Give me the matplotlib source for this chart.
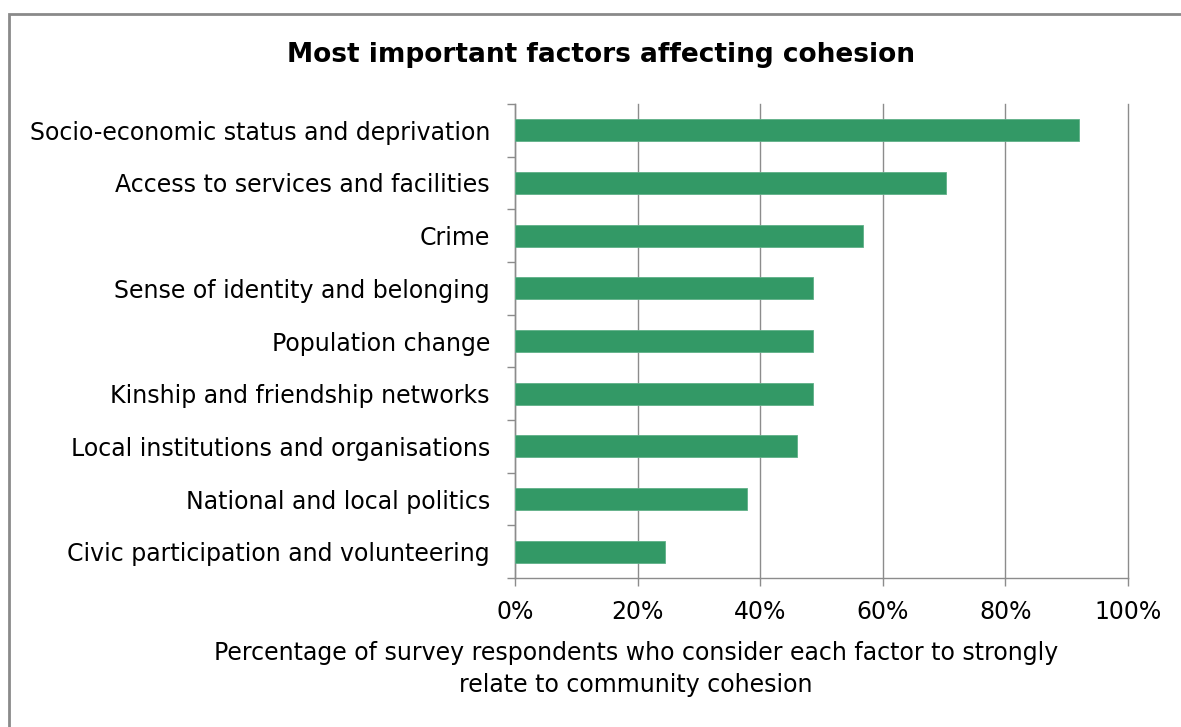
import matplotlib
matplotlib.use('Agg')
from matplotlib import pyplot as plt
from matplotlib.patches import Rectangle
from matplotlib.ticker import FixedLocator, PercentFormatter
import numpy as np

# data (top to bottom)
factors = ['Socio-economic status and deprivation',
           'Access to services and facilities',
           'Crime',
           'Sense of identity and belonging',
           'Population change',
           'Kinship and friendship networks',
           'Local institutions and organisations',
           'National and local politics',
           'Civic participation and volunteering']
percent = [92.0, 70.3, 56.8, 48.6, 48.6, 48.6, 46.0, 37.8, 24.5]
xticks = [0, 20, 40, 60, 80, 100]

W, H = 1181, 727
fig = plt.figure(figsize=(W / 100, H / 100), dpi=100)
plt.rcParams['font.family'] = ['DejaVu Sans']

# outer chart border (cut off at right/bottom like the screenshot)
fig.patches.append(Rectangle((9.5 / W, -0.1), 1.2, 1 - 14 / H + 0.1, transform=fig.transFigure,
                             fill=False, edgecolor='#8a8a8a', linewidth=2))

ax = fig.add_axes([515 / W, 1 - 578 / H, (1128 - 515) / W, (578 - 104) / H])
y = np.arange(len(factors))
ax.barh(y, percent, height=0.42, color='#339966', edgecolor='#5fb088', linewidth=0.6, zorder=3)
ax.set_xlim(0, 100)
ax.set_ylim(len(factors) - 0.5, -0.5)

ax.set_xticks(xticks)
ax.xaxis.set_major_formatter(PercentFormatter(decimals=0))
ax.grid(axis='x', color='#8c8c8c', linewidth=1, zorder=0)
for g in ax.get_xgridlines():
    g.set_clip_on(False)
ax.tick_params(axis='x', direction='out', length=6, color='#8c8c8c', width=1,
               labelsize=17, pad=9.5)

ax.set_yticks(y)
ax.set_yticklabels(factors, fontsize=17)
ax.yaxis.set_minor_locator(FixedLocator(np.arange(-0.5, len(factors), 1)))
ax.tick_params(axis='y', which='major', length=0, pad=18)
ax.tick_params(axis='y', which='minor', direction='out', length=6, color='#8c8c8c', width=1)

for s in ['top', 'right']:
    ax.spines[s].set_visible(False)
for s in ['left', 'bottom']:
    ax.spines[s].set_color('#8c8c8c')
    ax.spines[s].set_linewidth(1)

fig.text(601 / W, 1 - 55 / H, 'Most important factors affecting cohesion', ha='center', va='center',
         fontsize=19, fontweight='bold')
fig.text(636 / W, 1 - 669 / H,
         'Percentage of survey respondents who consider each factor to strongly\nrelate to community cohesion',
         ha='center', va='center', fontsize=17, linespacing=1.45)

fig.savefig('out.png', dpi=100, facecolor='white')
